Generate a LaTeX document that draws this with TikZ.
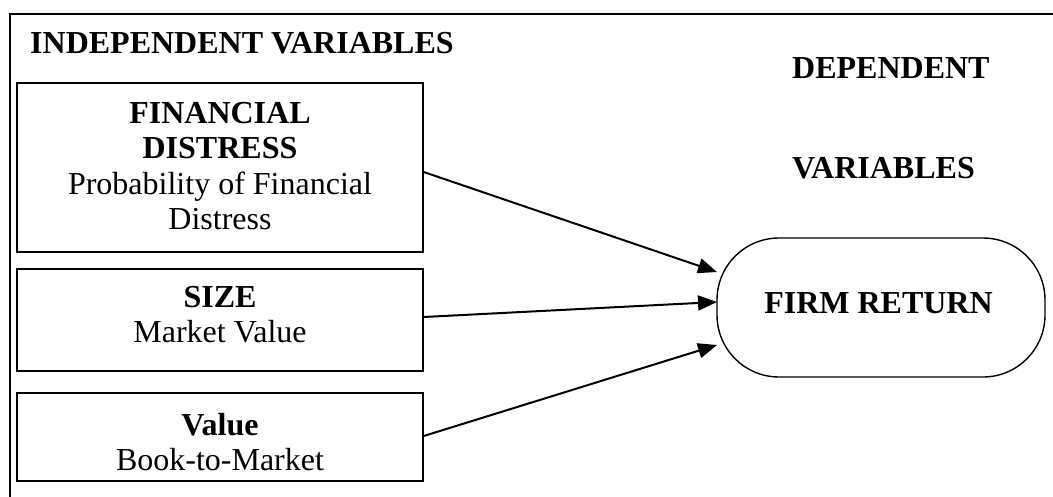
\documentclass[tikz,border=0pt]{standalone}
\usepackage{fontspec}
\setmainfont{Liberation Serif}
\usetikzlibrary{arrows.meta}
\begin{document}
\begin{tikzpicture}[x=1pt,y=-1pt,
  every node/.style={font=\fontsize{32}{35.6}\selectfont,inner sep=0pt},
  boldtxt/.style={font=\fontsize{32}{35.6}\selectfont\bfseries},
  varbox/.style={draw,line width=1.4pt,minimum width=406pt},
  boxtxt/.style={align=center},
  conn/.style={line width=2pt,-{Triangle[length=19pt,width=15pt]}}]
\useasboundingbox (0,0) rectangle (1053,496);
\clip (0,0) rectangle (1053,496);
\draw[line width=2pt] (10,14) rectangle (1070,520);
\node[boldtxt,anchor=base west] (indep) at (30,53) {INDEPENDENT VARIABLES};
\node[boldtxt,anchor=base west] (dep1) at (792,78) {DEPENDENT};
\node[boldtxt,anchor=base west] (dep2) at (792,178) {VARIABLES};
\node[varbox,minimum height=169pt] (fd) at (220,167.5) {};
\node[varbox,minimum height=102pt] (size) at (220,320) {};
\node[varbox,minimum height=88pt] (val) at (220,437) {};
\node[boxtxt] (fdt) at (220,166) {\textbf{FINANCIAL}\\\textbf{DISTRESS}\\Probability of Financial\\Distress};
\node[boxtxt] (sizet) at (220,314.5) {\textbf{SIZE}\\Market Value};
\node[boxtxt] (valt) at (220,442) {\textbf{Value}\\Book-to-Market};
\node[draw,line width=1.4pt,rounded corners=62pt,minimum width=328pt,minimum height=139pt] (fr) at (881,307.5) {};
\node[boldtxt,anchor=base] (frt) at (878.5,313) {FIRM RETURN};
\coordinate (t1) at (717,272);
\coordinate (t2) at (717,302);
\coordinate (t3) at (717,345);
\draw[conn] (fd.east |- 0,172) -- (t1);
\draw[conn] (size.east |- 0,317) -- (t2);
\draw[conn] (val.east |- 0,436) -- (t3);
\end{tikzpicture}
\end{document}
